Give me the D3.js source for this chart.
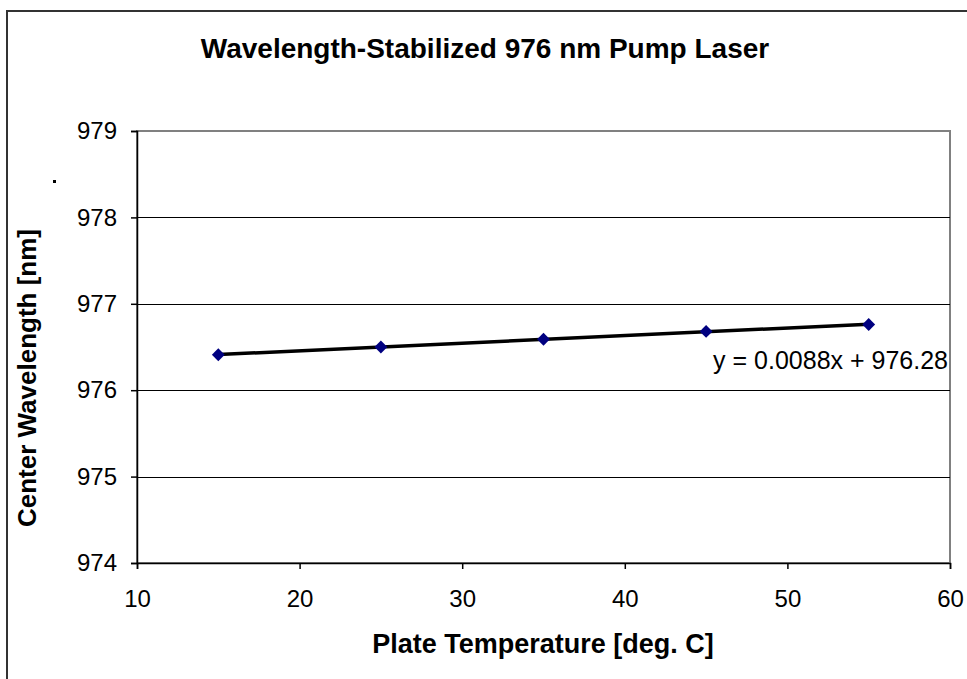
<!DOCTYPE html>
<html>
<head>
<meta charset="utf-8">
<script src="https://cdn.jsdelivr.net/npm/d3@7"></script>
<style>
  body { margin: 0; background: #fff; }
  svg text { font-family: "Liberation Sans", Arial, sans-serif; fill: #000; }
</style>
</head>
<body>
<div id="chart"></div>
<script>
const temps = [15, 25, 35, 45, 55];
const wavelengths = [976.41, 976.50, 976.59, 976.68, 976.76];
const xTicks = [10, 20, 30, 40, 50, 60];
const yTicks = [974, 975, 976, 977, 978, 979];
const trendText = "y = 0.0088x + 976.28";
const chartTitle = "Wavelength-Stabilized 976 nm Pump Laser";
const xTitle = "Plate Temperature [deg. C]";
const yTitle = "Center Wavelength [nm]";

const width = 967, height = 679;
const margin = { top: 131, right: 17, bottom: 116, left: 137 };
const innerWidth = width - margin.left - margin.right;
const innerHeight = height - margin.top - margin.bottom;

const svg = d3.select("#chart").append("svg")
  .attr("width", width).attr("height", height);

// outer chart border (only left and top visible in the frame)
svg.append("rect")
  .attr("x", 7).attr("y", 11)
  .attr("width", width + 20).attr("height", height + 20)
  .attr("fill", "none").attr("stroke", "#333").attr("stroke-width", 2);

svg.append("text")
  .attr("x", 485).attr("y", 58)
  .attr("text-anchor", "middle")
  .attr("font-size", "28px").attr("font-weight", "bold")
  .text(chartTitle);

const g = svg.append("g").attr("transform", `translate(${margin.left},${margin.top})`);

const x = d3.scaleLinear().domain([10, 60]).range([0, innerWidth]);
const y = d3.scaleLinear().domain([974, 979]).range([innerHeight, 0]);

// plot area border
g.append("rect")
  .attr("width", innerWidth).attr("height", innerHeight)
  .attr("fill", "none").attr("stroke", "#808080").attr("stroke-width", 2);

// gridlines
g.selectAll(".grid").data(yTicks.slice(1, -1)).enter().append("line")
  .attr("x1", 0).attr("x2", innerWidth)
  .attr("y1", d => Math.round(y(d)) + 0.5).attr("y2", d => Math.round(y(d)) + 0.5)
  .attr("stroke", "#000");

const xAxis = g.append("g")
  .attr("transform", `translate(0,${innerHeight})`)
  .call(d3.axisBottom(x).tickValues(xTicks).tickFormat(d3.format("d")).tickSize(6).tickPadding(21));
const yAxis = g.append("g")
  .call(d3.axisLeft(y).tickValues(yTicks).tickFormat(d3.format("d")).tickSize(6).tickPadding(14));
[xAxis, yAxis].forEach(a => {
  a.selectAll("path, line").attr("stroke", "#000").attr("stroke-width", 1.5);
  a.selectAll("text").attr("font-size", "24px")
    .style("font-family", "'Liberation Sans', Arial, sans-serif");
});

// trendline from linear fit of the data
const mx = d3.mean(temps), my = d3.mean(wavelengths);
const slope = d3.sum(temps, (t, i) => (t - mx) * (wavelengths[i] - my)) /
  d3.sum(temps, t => (t - mx) ** 2);
const icpt = my - slope * mx;
const xs = d3.extent(temps);
g.append("line")
  .attr("x1", x(xs[0])).attr("y1", y(icpt + slope * xs[0]))
  .attr("x2", x(xs[1])).attr("y2", y(icpt + slope * xs[1]))
  .attr("stroke", "#000").attr("stroke-width", 3.5);

// data markers
g.selectAll(".pt").data(temps).enter().append("path")
  .attr("d", d3.symbol().type(d3.symbolDiamond2).size(105))
  .attr("transform", (d, i) => `translate(${x(d)},${y(wavelengths[i])})`)
  .attr("fill", "#000080");

g.append("text")
  .attr("x", innerWidth - 2).attr("y", y(976) - 21)
  .attr("text-anchor", "end")
  .attr("font-size", "25px")
  .text(trendText);

svg.append("text")
  .attr("x", 543).attr("y", 653)
  .attr("text-anchor", "middle")
  .attr("font-size", "27px").attr("font-weight", "bold")
  .text(xTitle);

svg.append("text")
  .attr("transform", "translate(36,378) rotate(-90)")
  .attr("text-anchor", "middle")
  .attr("font-size", "26px").attr("font-weight", "bold")
  .text(yTitle);

// stray dot left of the axis
svg.append("rect")
  .attr("x", 53).attr("y", 180).attr("width", 3).attr("height", 3)
  .attr("fill", "#000");
</script>
</body>
</html>
